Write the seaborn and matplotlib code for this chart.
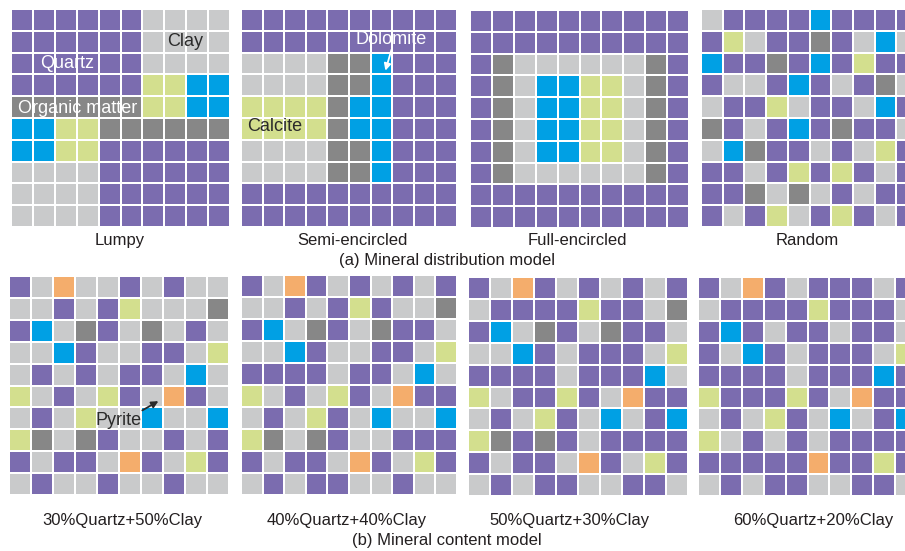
import numpy as np
import pandas as pd
import matplotlib
matplotlib.use("Agg")
import matplotlib.pyplot as plt
from matplotlib.colors import ListedColormap
import seaborn as sns

# Mineral codes: Q quartz, C clay, O organic matter, K calcite, D dolomite, P pyrite
MINERALS = ["Q", "C", "O", "K", "D", "P"]
MINERAL_COLORS = ["#7b6caf", "#c9cacb", "#878787", "#d3df8e", "#00a0e4", "#f4ad6c"]

LUMPY = [
    "QQQQQQCCCC",
    "QQQQQQCCCC",
    "QQQQQQCCCC",
    "QQQQQQKKDD",
    "OOOOOOKKDD",
    "DDKKOOOOOO",
    "DDKKQQQQQQ",
    "CCCCQQQQQQ",
    "CCCCQQQQQQ",
    "CCCCQQQQQQ",
]
SEMI_ENCIRCLED = [
    "QQQQQQQQQQ",
    "QQQQQQQQQQ",
    "CCCCOODQQQ",
    "CCCCOODQQQ",
    "KKKKODDQQQ",
    "KKKKODDQQQ",
    "CCCCOODQQQ",
    "CCCCOODQQQ",
    "QQQQQQQQQQ",
    "QQQQQQQQQQ",
]
FULL_ENCIRCLED = [
    "QQQQQQQQQQ",
    "QQQQQQQQQQ",
    "QOCCCCCCOQ",
    "QOCDDKKCOQ",
    "QOCDDKKCOQ",
    "QOCDDKKCOQ",
    "QOCDDKKCOQ",
    "QOCCCCCCOQ",
    "QQQQQQQQQQ",
    "QQQQQQQQQQ",
]
RANDOM = [
    "CQQQQDQQQQ",
    "QKCQQOQCDC",
    "DQQOQDQKQQ",
    "QCCQDQCQOC",
    "CQQKCQQCDQ",
    "OQCQDQOQQC",
    "CDOQQCQCKQ",
    "QQCQKQKQCQ",
    "QQOCOCQCQQ",
    "QCQKCQKQCQ",
]
Q30_C50 = [
    "QCPCCQCQCC",
    "CCQCQKCCCO",
    "QDCOQCOCQC",
    "CCDQCCQQCK",
    "CQCQCQQCDC",
    "KCQCKQCPQC",
    "CQCKCCDCCD",
    "KOCOQCCQCQ",
    "QCQQCPQCKQ",
    "CQCCQCCQCC",
]
Q40_C40 = [
    "QCPQCQCQCQ",
    "CCQCQKQCCO",
    "QDCOQCOQQC",
    "CCDQCCQQCK",
    "QQQQCQQCDC",
    "KCQCKQCPQQ",
    "CQCKQCDCCD",
    "KOCOQCCQQQ",
    "QCQQCPQCKQ",
    "CQCQQCCQCC",
]
Q50_C30 = [
    "QCPQCQCQCQ",
    "CQQQQKQQCO",
    "QDCOQCOQQC",
    "CCDQCQQQCK",
    "QQQQCQQQDC",
    "KCQQKQCPQQ",
    "CQCKQCDCQD",
    "KOQOQCQQQQ",
    "QCQQCPQCKQ",
    "CQCQQCCQQC",
]
Q60_C20 = [
    "QCPQCQQQCQ",
    "CQQQQKQQQC",
    "QDQCQQCQQC",
    "QCDQCQQQCK",
    "QQQQCQQQDQ",
    "KQQQKQCPQQ",
    "CQCKQCDCQD",
    "KCQCQCQQQQ",
    "QQQQQPQQKQ",
    "CQCQQCCQQC",
]

TOP_LABELS = ["Lumpy", "Semi-encircled", "Full-encircled", "Random"]
BOTTOM_LABELS = ["30%Quartz+50%Clay", "40%Quartz+40%Clay",
                 "50%Quartz+30%Clay", "60%Quartz+20%Clay"]
TOP_TITLE = "(a) Mineral distribution model"
BOTTOM_TITLE = "(b) Mineral content model"

W, H = 905, 551
plt.rcParams["font.family"] = ["Liberation Sans", "DejaVu Sans"]
fig = plt.figure(figsize=(W / 100, H / 100), dpi=100)
fig.patch.set_facecolor("white")

cmap = ListedColormap(MINERAL_COLORS)
code = {m: i for i, m in enumerate(MINERALS)}


def to_frame(rows):
    return pd.DataFrame([[code[ch] for ch in r] for r in rows])


def px_axes(left, top, width, height):
    return fig.add_axes([left / W, 1 - (top + height) / H, width / W, height / H])


grids = [LUMPY, SEMI_ENCIRCLED, FULL_ENCIRCLED, RANDOM,
         Q30_C50, Q40_C40, Q50_C30, Q60_C20]
boxes = [
    (11, 9, 219, 218), (241, 9, 216, 218), (470, 10, 219, 218), (701, 9, 217, 218),
    (9, 276, 220, 219), (241, 275, 216, 220), (468, 277, 220, 219), (698, 277, 219, 219),
]

axes = []
for rows, box in zip(grids, boxes):
    ax = px_axes(*box)
    sns.heatmap(to_frame(rows), ax=ax, cmap=cmap, vmin=-0.5, vmax=5.5,
                cbar=False, linewidths=1.1, linecolor="white",
                xticklabels=False, yticklabels=False)
    ax.set_xticks([])
    ax.set_yticks([])
    ax.set_xlabel("")
    ax.set_ylabel("")
    axes.append(ax)

# Mineral names written on the distribution models
lab = dict(fontsize=13, va="center")
axes[0].text(2.55, 2.5, "Quartz", color="white", ha="center", **lab)
axes[0].text(7.95, 1.5, "Clay", color="#2b2b2b", ha="center", **lab)
axes[0].text(0.3, 4.55, "Organic matter", color="white", ha="left", **lab)
axes[1].text(0.3, 5.4, "Calcite", color="#2b2b2b", ha="left", **lab)
axes[1].text(6.95, 1.4, "Dolomite", color="white", ha="center", **lab)
axes[1].annotate("", xy=(6.65, 2.95), xytext=(7.0, 1.75),
                 arrowprops=dict(arrowstyle="-|>", color="white", lw=1.3,
                                 mutation_scale=10))
axes[4].text(5.0, 6.6, "Pyrite", color="#2b2b2b", ha="center", **lab)
axes[4].annotate("", xy=(6.9, 5.65), xytext=(5.95, 6.2),
                 arrowprops=dict(arrowstyle="-|>", color="#2b2b2b", lw=1.3,
                                 mutation_scale=10))

# Captions
cap = dict(fontsize=12, color="#231f20", ha="center", va="center")
for x, s in zip([120, 352, 577, 807], TOP_LABELS):
    fig.text(x / W, 1 - 240 / H, s, **cap)
fig.text(447 / W, 1 - 260 / H, TOP_TITLE, **cap)
for x, s in zip([122, 347, 569, 813], BOTTOM_LABELS):
    fig.text(x / W, 1 - 520 / H, s, **cap)
fig.text(447 / W, 1 - 541 / H, BOTTOM_TITLE, **cap)

fig.savefig("out.png", dpi=100)
